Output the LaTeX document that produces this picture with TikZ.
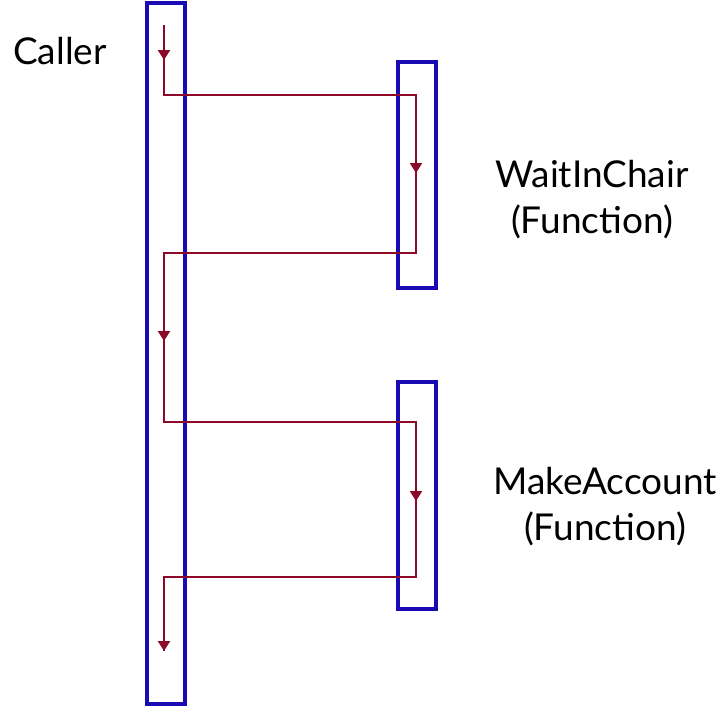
\documentclass[tikz,border=0pt]{standalone}
\usepackage{fontspec}
\setmainfont{Lato}
\usetikzlibrary{arrows.meta,decorations.markings}
\definecolor{boxblue}{HTML}{1A0AB4}
\definecolor{flowred}{HTML}{8C0A28}
\tikzset{
  actbox/.style={draw=boxblue,line width=4pt,inner sep=0pt,minimum width=38pt},
  flow/.style={draw=flowred,line width=2.3pt},
  tipdown/.style={flowred,line width=2.3pt,-{Triangle[width=12pt,length=10pt]}},
  lbl/.style={font=\fontsize{37}{46}\selectfont,align=center,text=black}
}
\begin{document}
\begin{tikzpicture}[x=1pt,y=-1pt]
\useasboundingbox (0,0) rectangle (720,707);
% boxes
\node[actbox,minimum height=701pt] (caller) at (165.5,353.5) {};
\node[actbox,minimum height=226pt] (wait) at (416.5,175) {};
\node[actbox,minimum height=227pt] (make) at (416.5,495.5) {};
% labels
\node[lbl] (callerlbl) at (60,51) {Caller};
\node[lbl] (waitlbl) at (592,200) {WaitInChair\\(Function)};
\node[lbl] (makelbl) at (605,507) {MakeAccount\\(Function)};
% path coordinates
\coordinate (p0) at (164,25);
\coordinate (p1) at (164,95);
\coordinate (p2) at (416,95);
\coordinate (p3) at (416,253);
\coordinate (p4) at (164,253);
\coordinate (p5) at (164,422);
\coordinate (p6) at (416,422);
\coordinate (p7) at (416,577);
\coordinate (p8) at (164,577);
\coordinate (p9) at (164,651);
\draw[flow] (p0) -- (p1) -- (p2) -- (p3) -- (p4) -- (p5) -- (p6) -- (p7) -- (p8) -- (p9);
% arrowheads
\coordinate (a1) at (164,60);
\coordinate (a2) at (416,173);
\coordinate (a3) at (164,341);
\coordinate (a4) at (416,501);
\draw[tipdown] (p0) -- (a1);
\draw[tipdown] (p2) -- (a2);
\draw[tipdown] (p4) -- (a3);
\draw[tipdown] (p6) -- (a4);
\draw[tipdown] (p8) -- (p9);
\end{tikzpicture}
\end{document}
